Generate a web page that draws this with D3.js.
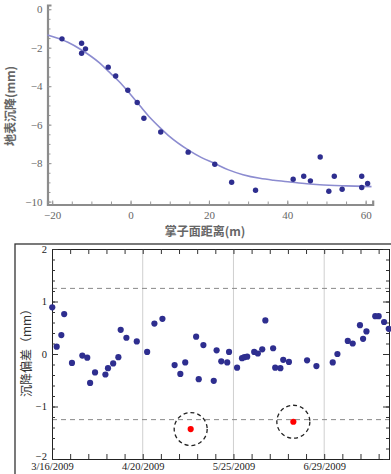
<!DOCTYPE html>
<html>
<head>
<meta charset="utf-8">
<script src="https://cdn.jsdelivr.net/npm/d3@7"></script>
<style>
  body { margin: 0; background: #fff; }
  svg { display: block; }
</style>
</head>
<body>
<svg id="draw-area" width="391" height="474"></svg>
<script>
// --- top chart: settlement vs distance to tunnel face ---
const dist = [-17.5, -12.5, -11.5, -12.5, -5.7, -3.8, -0.7, 1.7, 3.4, 7.7, 14.7, 21.5, 25.8, 31.9,
    41.5, 44.2, 45.9, 48.4, 50.6, 52.0, 54.0, 59.0, 59.0, 60.5];
const settle = [-1.54, -1.77, -2.06, -2.29, -3.01, -3.47, -4.21, -4.85, -5.67, -6.38, -7.43, -8.06, -8.99, -9.41,
    -8.84, -8.68, -8.92, -7.68, -9.46, -8.68, -9.36, -8.68, -9.27, -9.06];
// fitted curve
const fitDist = [-21.2, -16, -12.5, -8, -5.7, -3, -0.7, 2.4, 5, 7.7, 10, 14.7, 18, 21.5, 25, 28.7, 33, 36.5, 40.7, 45, 48.3, 55, 61.5];
const fitSettle = [-1.34, -1.72, -2.12, -2.78, -3.22, -3.74, -4.26, -5.02, -5.64, -6.19, -6.62, -7.31, -7.70, -8.02, -8.35, -8.60, -8.79, -8.89, -8.98, -9.07, -9.12, -9.18, -9.22];
const topXTicks = [-20, 0, 20, 40, 60];
const topYTicks = [0, -2, -4, -6, -8, -10];

// --- bottom chart: settlement deviation over time ---
const startDate = "3/16/2009";
const endDate = "7/24/2009";
const dayOffsets = [0.1, 1.8, 3.6, 4.7, 7.7, 11.7, 13.6, 14.7, 16.6, 20.6, 21.6, 23.6, 25.6, 26.5, 28.7, 32.7,
    36.7, 39.5, 42.6, 47.3, 49.5, 51.4, 55.6, 56.6, 58.4, 62.4, 63.5, 65.3, 67.6, 68.3, 71.4, 73.3,
    74.2, 75.3, 78.0, 79.4, 81.1, 82.3, 85.3, 86.1, 88.1, 89.2, 91.4, 98.4, 102.0, 108.3, 110.1,
    114.1, 116.0, 118.8, 120.0, 121.3, 124.7, 126.0, 128.1, 129.9];
const deviation = [0.89, 0.14, 0.36, 0.76, -0.17, -0.03, -0.07, -0.55, -0.35, -0.39, -0.27, -0.18, -0.06, 0.46, 0.31, 0.24,
    0.04, 0.58, 0.67, -0.21, -0.38, -0.16, 0.33, -0.48, 0.17, -0.51, 0.07, -0.14, -0.16, 0.04, -0.26, -0.08,
    -0.06, -0.05, 0.04, 0.01, 0.09, 0.64, 0.11, -0.26, -0.27, -0.11, -0.15, -0.12, -0.23, -0.16, 0.0,
    0.25, 0.2, 0.55, 0.29, 0.43, 0.72, 0.72, 0.61, 0.48];
const outlierDays = [53.5, 93.1];
const outlierDev = [-1.43, -1.29];
const dateTicks = ["3/16/2009", "4/20/2009", "5/25/2009", "6/29/2009"];
const devTicks = [2, 1, 0, -1, -2];
const limitLines = [1.25, -1.25];

const dotColor = "#2e2e8f";
const serif = "'Liberation Serif', 'DejaVu Serif', serif";
const cjk = "'Noto Sans CJK SC', sans-serif";

let svg = d3.select("#draw-area");

drawTop();
drawBottom();

function drawTop() {
    let xScale = d3.scaleLinear().domain([-21.2, 61.8]).range([47.5, 372.7]);
    let yScale = d3.scaleLinear().domain([0.22, -10.15]).range([5, 204.5]);
    let g = svg.append("g").attr("class", "top-chart");

    // minor ticks
    let xMinor = d3.axisBottom(xScale).tickValues(d3.range(-20, 61, 5)).tickSize(-3).tickFormat("");
    g.append("g").attr("transform", `translate(0, ${yScale.range()[1]})`).call(xMinor)
        .call(a => a.select(".domain").remove())
        .selectAll("line").attr("stroke", "#999");
    let yMinor = d3.axisLeft(yScale).tickValues(d3.range(-10, 0.1, 0.5)).tickSize(-3).tickFormat("");
    g.append("g").attr("transform", `translate(${xScale.range()[0]}, 0)`).call(yMinor)
        .call(a => a.select(".domain").remove())
        .selectAll("line").attr("stroke", "#999");

    let xAxis = d3.axisBottom(xScale).tickValues(topXTicks).tickSize(-4).tickPadding(7);
    let xa = g.append("g")
        .attr("class", "x-axis")
        .attr("transform", `translate(0, ${yScale.range()[1]})`)
        .call(xAxis);
    let yAxis = d3.axisLeft(yScale).tickValues(topYTicks).tickSize(-4).tickPadding(5);
    let ya = g.append("g")
        .attr("class", "y-axis")
        .attr("transform", `translate(${xScale.range()[0]}, 0)`)
        .call(yAxis);
    [xa, ya].forEach(a => {
        a.select(".domain").attr("stroke", "#8c8c8c").attr("stroke-width", 2.2);
        a.selectAll(".tick line").attr("stroke", "#999");
        a.selectAll("text").attr("fill", "#666").style("font-family", serif).style("font-size", "11px");
    });

    let line = d3.line()
        .x((d, i) => xScale(fitDist[i]))
        .y(d => yScale(d))
        .curve(d3.curveMonotoneX);
    g.append("path")
        .attr("d", line(fitSettle))
        .attr("fill", "none")
        .attr("stroke", "#8c8cd0")
        .attr("stroke-width", 1.6);

    g.selectAll("circle.pt")
        .data(settle)
        .enter()
        .append("circle")
        .attr("class", "pt")
        .attr("cx", (d, i) => xScale(dist[i]))
        .attr("cy", d => yScale(d))
        .attr("r", 2.7)
        .attr("fill", dotColor);

    g.append("text")
        .attr("transform", "translate(15, 106) rotate(-90)")
        .attr("text-anchor", "middle")
        .style("font-family", cjk)
        .style("font-size", "12px")
        .style("font-weight", "bold")
        .attr("fill", "#666")
        .text("地表沉降(mm)");

    g.append("text")
        .attr("x", 205)
        .attr("y", 236)
        .attr("text-anchor", "middle")
        .style("font-family", cjk)
        .style("font-size", "12px")
        .style("font-weight", "bold")
        .attr("fill", "#666")
        .text("掌子面距离(m)");
}

function drawBottom() {
    let parse = d3.timeParse("%m/%d/%Y");
    let t0 = parse(startDate);
    let xScale = d3.scaleTime().domain([t0, parse(endDate)]).range([52, 389]);
    let yScale = d3.scaleLinear().domain([2, -2]).range([249, 459]);
    let toDate = d => new Date(t0.getTime() + d * 864e5);
    let [x0, x1] = xScale.range();
    let [y0, y1] = yScale.range();
    let g = svg.append("g").attr("class", "bottom-chart");

    // outer frame
    g.append("rect")
        .attr("x", 15).attr("y", 244)
        .attr("width", 420).attr("height", 300)
        .attr("fill", "none")
        .attr("stroke", "#333")
        .attr("stroke-width", 1.3);

    // vertical grid lines
    g.selectAll("line.grid")
        .data(dateTicks.slice(1))
        .enter()
        .append("line")
        .attr("class", "grid")
        .attr("x1", d => xScale(parse(d))).attr("x2", d => xScale(parse(d)))
        .attr("y1", y0).attr("y2", y1)
        .attr("stroke", "#cfcfcf")
        .attr("stroke-width", 1);

    // dashed limit lines
    g.selectAll("line.limit")
        .data(limitLines)
        .enter()
        .append("line")
        .attr("class", "limit")
        .attr("x1", x0).attr("x2", x1)
        .attr("y1", d => yScale(d)).attr("y2", d => yScale(d))
        .attr("stroke", "#888")
        .attr("stroke-width", 1)
        .attr("stroke-dasharray", "5,4");

    // weekly ticks top and bottom
    let mondays = d3.timeMonday.range(t0, xScale.domain()[1]);
    let labelSet = new Set(dateTicks);
    let fmt = d3.timeFormat("%-m/%-d/%Y");
    let xBottom = d3.axisBottom(xScale).tickValues(mondays).tickSize(-5).tickPadding(4)
        .tickFormat(d => labelSet.has(fmt(d)) ? fmt(d) : "");
    let xTop = d3.axisTop(xScale).tickValues(mondays).tickSize(-5).tickFormat("");
    let yMinorVals = d3.range(-20, 21, 2).map(v => v / 10);
    let yLeft = d3.axisLeft(yScale).tickValues(devTicks).tickSize(-6).tickPadding(5).tickFormat(d3.format("d"));
    let yLeftMinor = d3.axisLeft(yScale).tickValues(yMinorVals).tickSize(-3).tickFormat("");
    let yRight = d3.axisRight(yScale).tickValues(devTicks).tickSize(-6).tickFormat("");
    let yRightMinor = d3.axisRight(yScale).tickValues(yMinorVals).tickSize(-3).tickFormat("");

    let axes = [
        [xBottom, `translate(0, ${y1})`],
        [xTop, `translate(0, ${y0})`],
        [yLeft, `translate(${x0}, 0)`],
        [yLeftMinor, `translate(${x0}, 0)`],
        [yRight, `translate(${x1}, 0)`],
        [yRightMinor, `translate(${x1}, 0)`]
    ];
    axes.forEach(([ax, tr]) => {
        let a = g.append("g").attr("transform", tr).call(ax);
        a.select(".domain").attr("stroke", "#222").attr("stroke-width", 1);
        a.selectAll(".tick line").attr("stroke", "#333");
        a.selectAll("text").attr("fill", "#222").style("font-family", serif).style("font-size", "10.5px");
    });
    // lift the lowest y label a little so it clears the date label
    g.selectAll(".tick text").filter(d => d === -2).attr("dy", "0.05em");

    g.selectAll("circle.pt")
        .data(deviation)
        .enter()
        .append("circle")
        .attr("class", "pt")
        .attr("cx", (d, i) => xScale(toDate(dayOffsets[i])))
        .attr("cy", d => yScale(d))
        .attr("r", 3.1)
        .attr("fill", dotColor);

    // red outliers with dashed rings
    g.selectAll("circle.ring")
        .data(outlierDev)
        .enter()
        .append("circle")
        .attr("class", "ring")
        .attr("cx", (d, i) => xScale(toDate(outlierDays[i])))
        .attr("cy", d => yScale(d))
        .attr("r", 16.5)
        .attr("fill", "none")
        .attr("stroke", "#222")
        .attr("stroke-width", 1.3)
        .attr("stroke-dasharray", "4,3");
    g.selectAll("circle.outlier")
        .data(outlierDev)
        .enter()
        .append("circle")
        .attr("class", "outlier")
        .attr("cx", (d, i) => xScale(toDate(outlierDays[i])))
        .attr("cy", d => yScale(d))
        .attr("r", 3.1)
        .attr("fill", "#f00");

    g.append("text")
        .attr("transform", "translate(31, 350) rotate(-90)")
        .attr("text-anchor", "middle")
        .style("font-family", cjk)
        .style("font-size", "12px")
        .attr("fill", "#333")
        .text("沉降偏差（mm）");
}
</script>
</body>
</html>
